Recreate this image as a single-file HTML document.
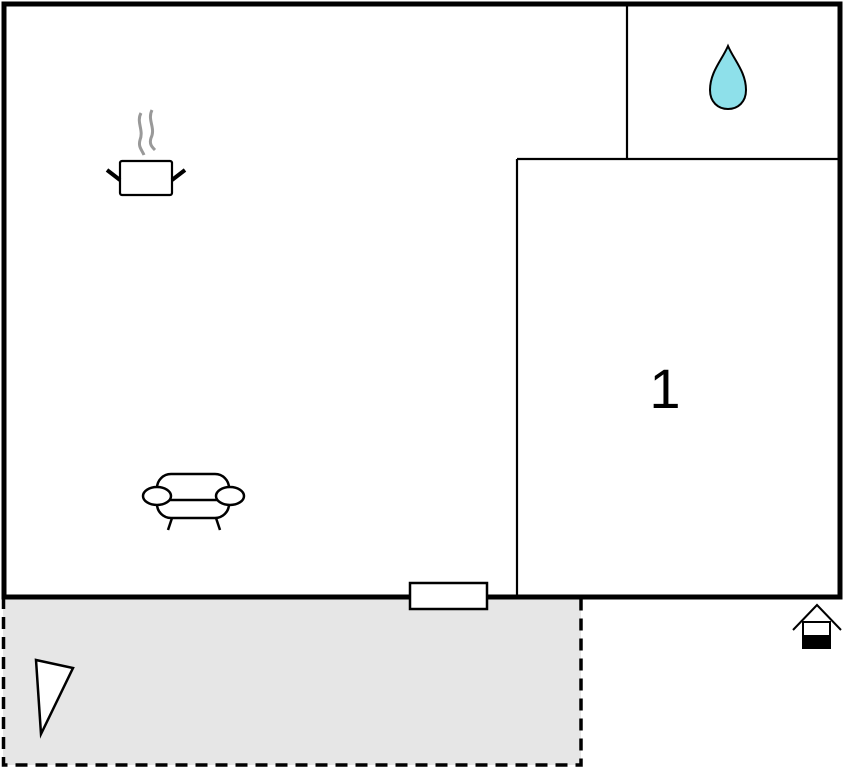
<!DOCTYPE html>
<html><head><meta charset="utf-8"><style>html,body{margin:0;padding:0;background:#fff;}svg{display:block}</style></head>
<body>
<svg width="845" height="768" viewBox="0 0 845 768" xmlns="http://www.w3.org/2000/svg">
<rect x="3" y="597" width="578" height="168" fill="#e6e6e6"/>
<path d="M3.5 597 V765 H581 V597" fill="none" stroke="#000" stroke-width="3.5" stroke-dasharray="12,8"/>
<rect x="4" y="4" width="836" height="593" fill="none" stroke="#000" stroke-width="5"/>
<path d="M627 4 V159 M517 159 H840 M517 159 V597" stroke="#000" stroke-width="2.2" fill="none"/>
<rect x="410" y="583" width="77" height="26" fill="#fff" stroke="#000" stroke-width="2.5"/>
<polygon points="36,660 73,668 41,734" fill="#fff" stroke="#000" stroke-width="2.5"/>
<path d="M728 46 C722 60 710 72 710 90 C710 102 718 109 728 109 C738 109 746 102 746 90 C746 72 734 60 728 46 Z" fill="#8ee0ea" stroke="#000" stroke-width="2"/>
<text x="665" y="408" font-family="Liberation Sans, sans-serif" font-size="56" text-anchor="middle">1</text>
<!-- pot -->
<path d="M141 113 C136 122 144 130 140 140 C138 147 142 150 144 155 M152 110 C147 120 156 128 151 138 C149 144 152 147 155 150" stroke="#999" stroke-width="3" fill="none"/>
<rect x="120" y="161" width="52" height="34" rx="2" fill="#fff" stroke="#000" stroke-width="2.2"/>
<path d="M107 170 L120 180 M185 170 L172 180" stroke="#000" stroke-width="4"/>
<!-- sofa -->
<g fill="#fff" stroke="#000" stroke-width="2.5">
<rect x="157" y="474" width="72" height="44" rx="14"/>
<line x1="167" y1="500" x2="219" y2="500"/>
<ellipse cx="157" cy="496" rx="14" ry="9"/>
<ellipse cx="230" cy="496" rx="14" ry="9"/>
<line x1="172" y1="518" x2="168" y2="530"/>
<line x1="216" y1="518" x2="220" y2="530"/>
</g>
<!-- entrance -->
<path d="M793 630 L817 605 L841 630" fill="none" stroke="#000" stroke-width="2"/>
<rect x="803" y="622" width="27" height="26" fill="#fff" stroke="#000" stroke-width="2"/>
<rect x="803" y="635" width="27" height="13" fill="#000"/>
</svg>
</body></html>
